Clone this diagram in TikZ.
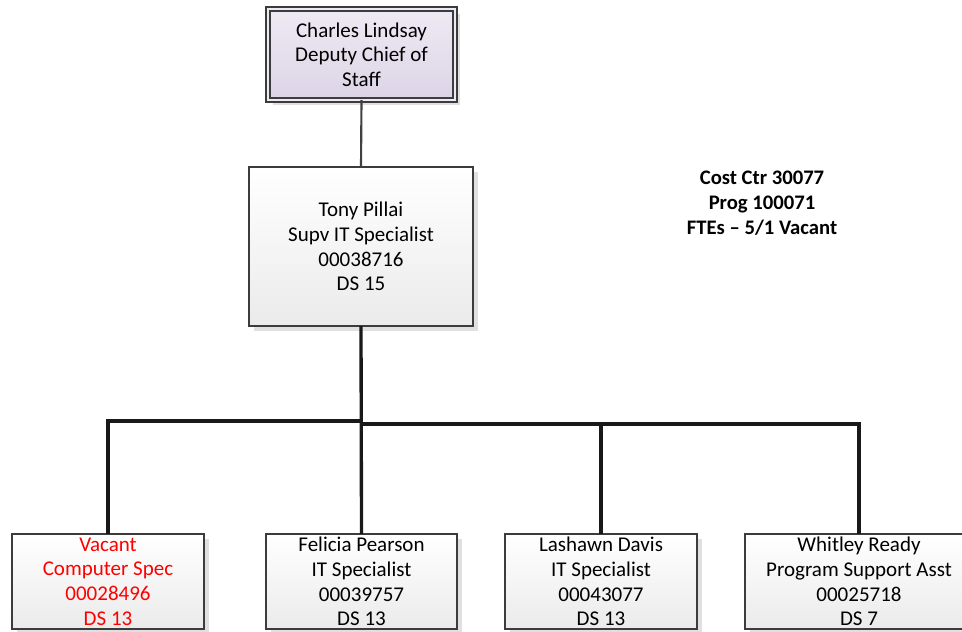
\documentclass[tikz,border=0pt]{standalone}
\usepackage{fontspec}
\setmainfont{Carlito}
\usetikzlibrary{shadows}
\definecolor{lavtop}{HTML}{EEEAF3}
\definecolor{lavbot}{HTML}{DCD4E6}
\definecolor{boxline}{HTML}{3C3C3C}
\definecolor{shade}{HTML}{E0E0E0}
\definecolor{vacred}{HTML}{FF0000}
\tikzset{
  orgtext/.style={font=\fontsize{15.75}{18.5}\selectfont, align=center, text=black},
  posbox/.style={orgtext, draw=boxline, line width=0.95pt, rectangle,
    inner sep=0pt, outer sep=0pt,
    top color=white, bottom color=black!8,
    drop shadow={shadow xshift=3.6pt, shadow yshift=-3.6pt, fill=shade, opacity=1}},
  chiefbox/.style={orgtext, rectangle, inner sep=0pt, outer sep=0pt,
    draw=boxline, line width=0.8pt, double=lavtop, double distance=2.2pt,
    top color=lavtop, bottom color=lavbot,
    drop shadow={shadow xshift=3.6pt, shadow yshift=-3.6pt, fill=shade, opacity=1}},
  link/.style={draw=black!90, line width=2.5pt},
  toplink/.style={draw=black!75, line width=1.6pt},
  costnote/.style={font=\fontsize{15.5}{18.8}\selectfont\bfseries, align=center}
}
\begin{document}
\begin{tikzpicture}[x=0.75pt, y=-0.75pt]
\useasboundingbox (0,0) rectangle (962,631);
\clip (0,0) rectangle (962,631);

% deputy chief of staff
\node[chiefbox, minimum width=140.25pt, minimum height=68.25pt] (chief) at (361.5,54.5)
  {Charles Lindsay\\Deputy Chief of\\Staff};

% supervisor
\node[posbox, minimum width=168pt, minimum height=119.25pt] (tony) at (361,246.5)
  {Tony Pillai\\Supv IT Specialist\\00038716\\DS 15};

% staff positions
\node[posbox, minimum width=144pt, minimum height=71.25pt, text=vacred] (vacant) at (108,581.5)
  {Vacant\\Computer Spec\\00028496\\DS 13};
\node[posbox, minimum width=143.25pt, minimum height=71.25pt] (felicia) at (361.5,581.5)
  {Felicia Pearson\\IT Specialist\\00039757\\DS 13};
\node[posbox, minimum width=144pt, minimum height=71.25pt] (lashawn) at (601,581.5)
  {Lashawn Davis\\IT Specialist\\00043077\\DS 13};
\node[posbox, minimum width=171pt, minimum height=71.25pt] (whitley) at (859,581.5)
  {Whitley Ready\\Program Support Asst\\00025718\\DS 7};

% cost centre note
\node[costnote] (note) at (762,203) {Cost Ctr 30077\\Prog 100071\\FTEs – 5/1 Vacant};

% reporting lines
\coordinate (barL) at (361,421);
\coordinate (barR) at (361,424);
\draw[toplink] (chief.south) -- (tony.north);
\draw[link] (tony.south) -- (felicia.north);
\draw[link] (barL) -| (vacant.north);
\draw[link] (barR) -| (whitley.north);
\draw[link] (lashawn.north) -- (lashawn.north |- barR);
\end{tikzpicture}
\end{document}
